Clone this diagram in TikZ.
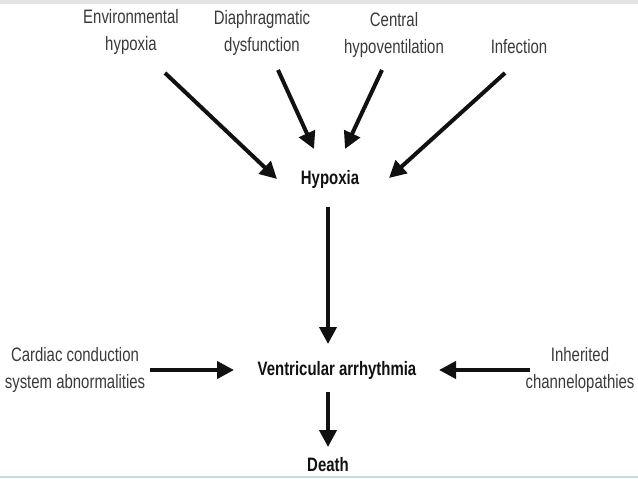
\documentclass[tikz,border=0pt]{standalone}
\usepackage{fontspec}
\setmainfont{Liberation Sans}
\usepackage{tikz}
\usetikzlibrary{arrows.meta}
\definecolor{bg}{HTML}{FFFFFF}
\definecolor{ink}{HTML}{111111}
\definecolor{txt}{HTML}{3A3A3A}
\definecolor{band}{HTML}{E4E4E4}
\definecolor{edge}{HTML}{C4DCE8}
\newcommand{\tallt}[1]{\scalebox{1}[1.3]{#1}}
\tikzset{
  arr/.style={draw=ink, line width=4bp, -{Triangle[length=17bp,width=17bp]}},
  cause/.style={text=txt, font=\fontsize{15}{28}\selectfont, align=center, inner sep=0pt},
  event/.style={cause, text=ink, font=\fontsize{15}{28}\selectfont\bfseries}
}

\begin{document}
\begin{tikzpicture}[x=1bp,y=1bp]
  \useasboundingbox (0,0) rectangle (638,-479);
  \fill[bg] (0,0) rectangle (638,-479);
  \fill[band] (0,0) rectangle (638,-4);
  \draw[edge, line width=2bp] (0,-477) -- (638,-477);

  % causes of hypoxia
  \node[cause] (env) at (131,-32) {\tallt{Environmental}\\\tallt{hypoxia}};
  \node[cause] (dia) at (262,-33) {\tallt{Diaphragmatic}\\\tallt{dysfunction}};
  \node[cause] (cen) at (394,-35) {\tallt{Central}\\\tallt{hypoventilation}};
  \node[cause] (inf) at (519,-47) {\tallt{Infection}};

  % main chain
  \node[event] (hyp) at (330,-179) {\tallt{Hypoxia}};
  \node[event] (va)  at (337,-370) {\tallt{Ventricular arrhythmia}};
  \node[event] (dth) at (328,-465) {\tallt{Death}};

  % side causes
  \node[cause] (ccs) at (75,-370)  {\tallt{Cardiac conduction}\\\tallt{system abnormalities}};
  \node[cause] (inh) at (580,-370) {\tallt{Inherited}\\\tallt{channelopathies}};

  \coordinate (envA) at (165,-73);
  \coordinate (envB) at (277,-179);
  \coordinate (diaA) at (278,-70);
  \coordinate (diaB) at (314,-149);
  \coordinate (cenA) at (382,-70);
  \coordinate (cenB) at (345,-149);
  \coordinate (infA) at (505,-73);
  \coordinate (infB) at (389,-178);
  \coordinate (hypA) at (328,-207);
  \coordinate (hypB) at (328,-344);
  \coordinate (ccsA) at (150,-370);
  \coordinate (ccsB) at (234,-370);
  \coordinate (inhA) at (530,-370);
  \coordinate (inhB) at (439,-370);
  \coordinate (vaA)  at (328,-392);
  \coordinate (vaB)  at (328,-447);

  \draw[arr] (envA) -- (envB);
  \draw[arr] (diaA) -- (diaB);
  \draw[arr] (cenA) -- (cenB);
  \draw[arr] (infA) -- (infB);
  \draw[arr] (hypA) -- (hypB);
  \draw[arr] (ccsA) -- (ccsB);
  \draw[arr] (inhA) -- (inhB);
  \draw[arr] (vaA) -- (vaB);
\end{tikzpicture}
\end{document}
